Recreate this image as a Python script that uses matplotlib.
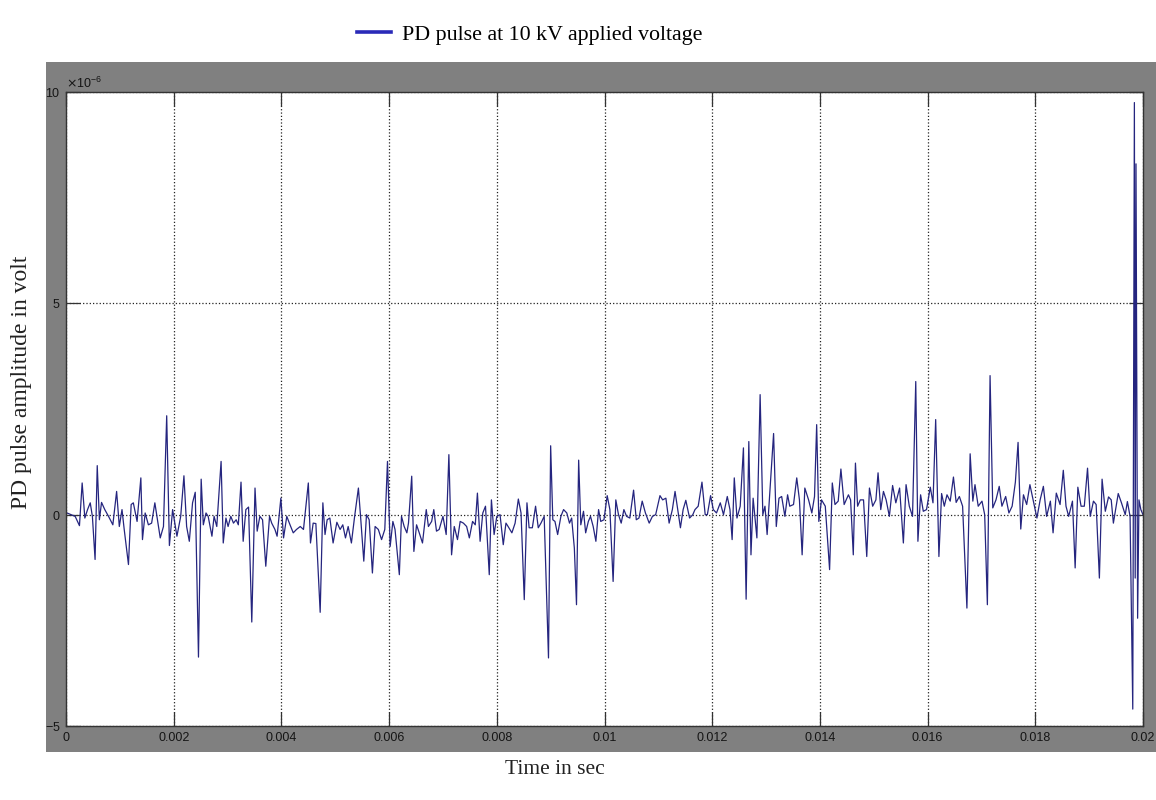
import numpy as np
import matplotlib
matplotlib.use('Agg')
import matplotlib.pyplot as plt
from matplotlib.lines import Line2D
from matplotlib.patches import Rectangle
from matplotlib.ticker import FuncFormatter, ScalarFormatter

# PD pulse trace (time in ms, amplitude in microvolt)
t_ms = [
    0.00, 0.17, 0.25, 0.30, 0.35, 0.40, 0.45, 0.49, 0.54, 0.58, 0.62, 0.66, 0.72, 0.79, 0.87,
    0.94, 0.99, 1.04, 1.08, 1.16, 1.21, 1.25, 1.32, 1.39, 1.42, 1.47, 1.53, 1.59, 1.65, 1.75,
    1.81, 1.87, 1.92, 1.98, 2.06, 2.13, 2.19, 2.24, 2.29, 2.35, 2.40, 2.46, 2.51, 2.55, 2.60,
    2.64, 2.71, 2.75, 2.80, 2.88, 2.92, 2.97, 3.01, 3.06, 3.11, 3.16, 3.20, 3.25, 3.29, 3.34,
    3.39, 3.45, 3.51, 3.55, 3.60, 3.65, 3.71, 3.78, 3.82, 3.88, 3.92, 3.99, 4.04, 4.10, 4.16,
    4.22, 4.28, 4.35, 4.41, 4.50, 4.54, 4.59, 4.64, 4.72, 4.77, 4.81, 4.85, 4.90, 4.96, 5.03,
    5.09, 5.14, 5.19, 5.24, 5.30, 5.36, 5.43, 5.47, 5.53, 5.58, 5.63, 5.69, 5.74, 5.80, 5.86,
    5.92, 5.97, 6.02, 6.07, 6.11, 6.19, 6.23, 6.28, 6.33, 6.36, 6.42, 6.46, 6.51, 6.56, 6.62,
    6.69, 6.73, 6.79, 6.83, 6.88, 6.93, 7.00, 7.06, 7.11, 7.16, 7.21, 7.27, 7.32, 7.38, 7.44,
    7.49, 7.55, 7.60, 7.64, 7.69, 7.74, 7.79, 7.86, 7.90, 7.95, 8.00, 8.06, 8.12, 8.17, 8.21,
    8.28, 8.34, 8.40, 8.45, 8.51, 8.56, 8.60, 8.66, 8.72, 8.77, 8.82, 8.88, 8.96, 9.00, 9.04,
    9.08, 9.13, 9.19, 9.24, 9.30, 9.35, 9.39, 9.44, 9.48, 9.52, 9.56, 9.61, 9.65, 9.70, 9.74,
    9.79, 9.84, 9.89, 9.93, 9.99, 10.05, 10.10, 10.16, 10.21, 10.26, 10.31, 10.36, 10.41, 10.47, 10.54,
    10.59, 10.64, 10.70, 10.76, 10.83, 10.89, 10.95, 11.03, 11.08, 11.14, 11.20, 11.26, 11.31, 11.36, 11.41,
    11.46, 11.51, 11.58, 11.64, 11.68, 11.74, 11.81, 11.87, 11.91, 11.97, 12.02, 12.08, 12.15, 12.21, 12.28,
    12.33, 12.37, 12.41, 12.46, 12.52, 12.58, 12.63, 12.68, 12.72, 12.76, 12.83, 12.89, 12.94, 12.98, 13.02,
    13.14, 13.19, 13.24, 13.29, 13.35, 13.40, 13.44, 13.51, 13.57, 13.62, 13.67, 13.72, 13.79, 13.85, 13.90,
    13.94, 13.98, 14.03, 14.10, 14.18, 14.23, 14.28, 14.34, 14.39, 14.45, 14.53, 14.57, 14.62, 14.66, 14.70,
    14.75, 14.81, 14.87, 14.92, 14.98, 15.04, 15.08, 15.13, 15.18, 15.23, 15.29, 15.35, 15.41, 15.48, 15.55,
    15.60, 15.66, 15.72, 15.78, 15.82, 15.87, 15.92, 15.98, 16.05, 16.10, 16.15, 16.21, 16.26, 16.31, 16.36,
    16.42, 16.48, 16.53, 16.59, 16.65, 16.73, 16.79, 16.84, 16.88, 16.94, 17.01, 17.06, 17.11, 17.16, 17.21,
    17.27, 17.33, 17.38, 17.45, 17.51, 17.57, 17.63, 17.68, 17.73, 17.78, 17.84, 17.90, 17.97, 18.03, 18.09,
    18.15, 18.21, 18.28, 18.33, 18.39, 18.46, 18.52, 18.57, 18.62, 18.69, 18.74, 18.79, 18.85, 18.91, 18.97,
    19.02, 19.08, 19.13, 19.19, 19.24, 19.30, 19.36, 19.41, 19.45, 19.54, 19.60, 19.67, 19.71, 19.76, 19.81,
    19.84, 19.855, 19.87, 19.90, 19.925, 19.96, 20.00,
]
v_uV = [
    0.05, -0.04, -0.26, 0.75, -0.08, 0.12, 0.28, -0.04, -1.06, 1.16, -0.12, 0.29, 0.12, -0.04, -0.24,
    0.55, -0.28, 0.12, -0.34, -1.18, 0.24, 0.28, -0.16, 0.87, -0.59, 0.04, -0.24, -0.20, 0.28, -0.55,
    -0.28, 2.34, -0.73, 0.12, -0.51, -0.04, 0.92, -0.28, -0.63, 0.28, 0.53, -3.37, 0.84, -0.24, 0.04,
    -0.04, -0.51, -0.04, -0.28, 1.26, -0.67, -0.08, -0.28, -0.04, -0.20, -0.12, -0.24, 0.77, -0.63, 0.12,
    0.18, -2.54, 0.63, -0.39, -0.04, -0.12, -1.22, -0.04, -0.20, -0.35, -0.51, 0.39, -0.55, -0.04, -0.24,
    -0.43, -0.35, -0.28, -0.35, 0.75, -0.67, -0.20, -0.21, -2.31, 0.28, -0.47, -0.12, -0.08, -0.67, -0.18,
    -0.35, -0.24, -0.55, -0.28, -0.67, -0.04, 0.63, -0.04, -1.10, 0.00, -0.12, -1.38, -0.28, -0.35, -0.59,
    -0.35, 1.26, -0.75, -0.16, -0.35, -1.42, -0.04, -0.28, -0.43, -0.20, 0.91, -0.87, -0.24, -0.43, -0.67,
    0.12, -0.28, -0.16, 0.12, -0.39, -0.35, -0.04, -0.47, 1.42, -0.95, -0.28, -0.59, -0.16, -0.20, -0.28,
    -0.55, -0.16, -0.24, 0.51, -0.63, 0.04, 0.20, -1.42, 0.35, -0.47, -0.04, 0.00, -0.71, -0.20, -0.28,
    -0.43, -0.20, 0.37, 0.04, -2.01, 0.28, -0.31, -0.31, 0.20, -0.31, -0.20, -0.04, -3.39, 1.63, -0.12,
    -0.16, -0.47, -0.04, 0.12, 0.04, -0.20, -0.08, -0.79, -2.13, 1.29, -0.24, 0.08, -0.43, -0.16, -0.04,
    -0.28, -0.63, 0.12, -0.16, -0.12, 0.45, 0.12, -1.58, 0.35, 0.00, -0.20, 0.12, -0.04, -0.08, 0.58,
    -0.12, -0.08, 0.32, 0.04, -0.20, -0.04, 0.00, 0.45, 0.35, 0.39, -0.20, 0.12, 0.55, 0.12, -0.31,
    0.12, 0.34, -0.08, 0.00, 0.12, 0.20, 0.77, 0.00, 0.00, 0.45, 0.12, 0.04, 0.28, 0.00, 0.43,
    0.12, -0.59, 0.87, -0.08, 0.20, 1.58, -2.00, 1.73, -0.95, 0.39, -0.55, 2.84, 0.00, 0.20, -0.47,
    1.92, -0.28, 0.39, 0.43, -0.04, 0.47, 0.20, 0.24, 0.87, 0.35, -0.95, 0.63, 0.35, 0.04, 0.43,
    2.13, -0.16, 0.35, 0.20, -1.30, 0.75, 0.24, 0.32, 1.08, 0.24, 0.47, 0.35, -0.95, 1.22, 0.20,
    0.35, 0.35, -0.99, 0.63, 0.20, 0.35, 0.99, 0.12, 0.55, 0.35, -0.04, 0.69, 0.28, 0.63, -0.67,
    0.71, 0.20, -0.04, 3.15, -0.63, 0.47, 0.08, 0.12, 0.65, 0.28, 2.25, -0.99, 0.50, 0.20, 0.47,
    0.32, 0.89, 0.29, 0.43, 0.20, -2.21, 1.44, 0.32, 0.71, 0.20, 0.32, 0.00, -2.13, 3.29, 0.16,
    0.35, 0.67, 0.20, 0.43, 0.04, 0.20, 0.77, 1.71, -0.34, 0.47, 0.24, 0.71, 0.28, -0.08, 0.35,
    0.67, -0.04, 0.32, -0.43, 0.51, 0.24, 1.05, 0.20, -0.04, 0.32, -1.26, 0.65, 0.20, 0.20, 1.10,
    -0.04, 0.32, 0.24, -1.50, 0.84, 0.08, 0.42, 0.35, -0.20, 0.50, 0.28, 0.00, 0.31, -0.04, -4.60,
    9.75, -1.50, 8.30, -2.45, 0.35, 0.12, 0.00,
]

t = np.array(t_ms) * 1e-3
v = np.array(v_uV) * 1e-6

plt.rcParams['axes.unicode_minus'] = False
plt.rcParams['font.family'] = ['Liberation Sans Narrow', 'Liberation Sans', 'DejaVu Sans']
serif = ['Liberation Serif', 'DejaVu Serif']

fig = plt.figure(figsize=(11.56, 8), dpi=100)
fig.patch.set_facecolor('white')

# grey scope frame behind the axes
fig.patches.append(Rectangle((46 / 1156, 1 - 752 / 800), 1 - 46 / 1156, (752 - 62) / 800,
                             transform=fig.transFigure, facecolor='#808080',
                             edgecolor='none', zorder=-5))

ax = fig.add_axes([66 / 1156, 1 - 726 / 800, 1077 / 1156, 634 / 800])
ax.set_zorder(2)
ax.set_facecolor('white')
ax.plot(t, v, color='#25257f', lw=0.9)

ax.set_xlim(0, 0.02)
ax.set_ylim(-5e-6, 10e-6)
ax.set_xticks(np.arange(0, 0.0201, 0.002))
ax.set_yticks([-5e-6, 0, 5e-6, 10e-6])
ax.xaxis.set_major_formatter(FuncFormatter(lambda x, p: '%g' % round(x, 4)))
fmt = ScalarFormatter(useMathText=True)
fmt.set_powerlimits((-6, -6))
ax.yaxis.set_major_formatter(fmt)

ax.grid(True, linestyle=':', color='#222222', lw=0.9)
ax.tick_params(direction='in', length=10, width=0.9, color='#333333',
               top=True, right=True, labelsize=9, labelcolor='#151515', pad=4)
off = ax.yaxis.get_offset_text()
off.set_fontsize(9)
off.set_color('#151515')
for sp in ax.spines.values():
    sp.set_color('#333333')
    sp.set_linewidth(1.0)

fig.text(555 / 1156, 1 - 770 / 800, 'Time in sec', ha='center', va='center',
         fontsize=15.5, family=serif, color='#222222')
fig.text(22 / 1156, 1 - 382 / 800, 'PD pulse amplitude in volt', ha='center', va='center',
         rotation=90, fontsize=17, family=serif, color='#222222')

handle = Line2D([], [], color='#2a2ab8', lw=2.6)
fig.legend([handle], ['PD pulse at 10 kV applied voltage'], loc='center left',
           bbox_to_anchor=(357 / 1156, 1 - 35 / 800), frameon=False, borderpad=0,
           borderaxespad=0, handlelength=1.55, handletextpad=0.5,
           prop={'family': serif, 'size': 15.8})

fig.savefig('out.png', dpi=100)
